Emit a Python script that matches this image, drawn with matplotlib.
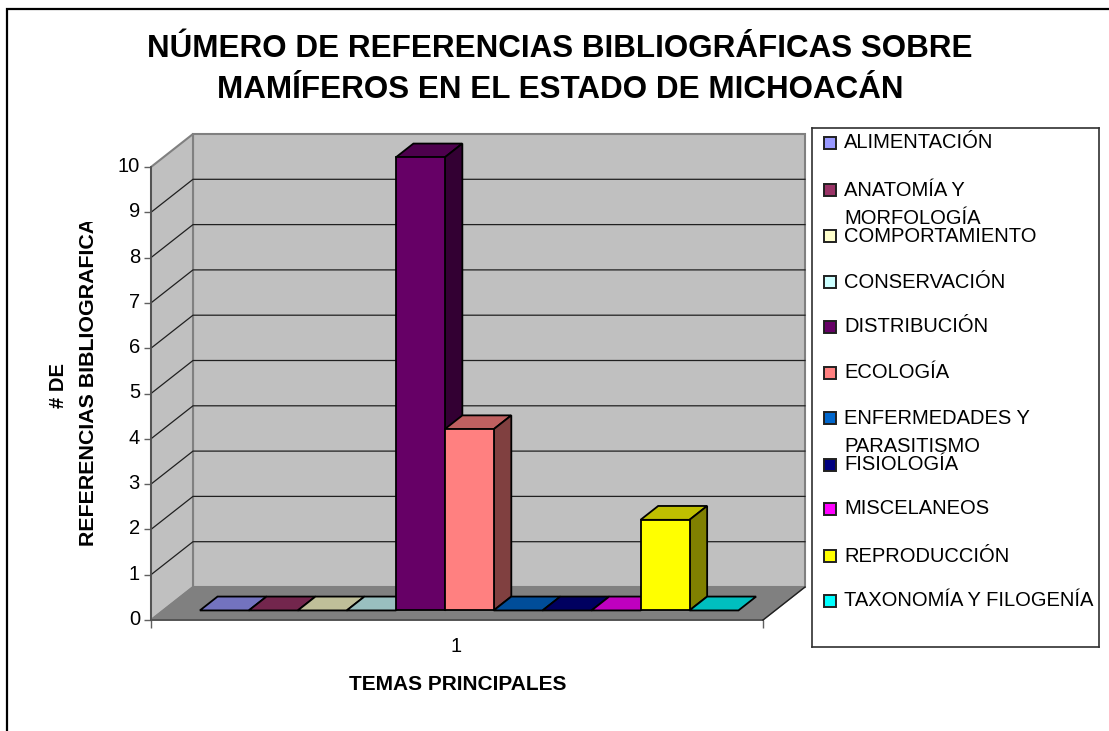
import matplotlib
matplotlib.use("Agg")
import matplotlib.pyplot as plt
from matplotlib.patches import Polygon, Rectangle
from matplotlib.transforms import ScaledTranslation, Bbox

plt.rcParams['font.family'] = ['Liberation Sans', 'DejaVu Sans']

# data
temas = ["ALIMENTACIÓN", "ANATOMÍA Y\nMORFOLOGÍA", "COMPORTAMIENTO", "CONSERVACIÓN",
         "DISTRIBUCIÓN", "ECOLOGÍA", "ENFERMEDADES Y\nPARASITISMO", "FISIOLOGÍA",
         "MISCELANEOS", "REPRODUCCIÓN", "TAXONOMÍA Y FILOGENÍA"]
referencias = [0, 0, 0, 0, 10, 4, 0, 0, 0, 2, 0]
colores = ["#9999FF", "#993366", "#FFFFCC", "#CCFFFF", "#660066", "#FF8080",
           "#0066CC", "#000080", "#FF00FF", "#FFFF00", "#00FFFF"]
yticks = list(range(0, 11))
legend_y = [143, 190, 236, 282, 327, 373, 418, 465, 509, 556, 601]

W, H = 1109, 731
fig = plt.figure(figsize=(W / 100, H / 100), dpi=100, facecolor="white")


def axpos(x0, y0, x1, y1):
    # pixel box to figure fraction
    return [x0 / W, 1 - y1 / H, (x1 - x0) / W, (y1 - y0) / H]


# outer frame
fig.add_artist(Rectangle((7 / W, -0.01), 1.1, 1 - 9 / H + 0.01, transform=fig.transFigure,
                         fill=False, ec="black", lw=1.6))

ax = fig.add_axes(axpos(151, 167, 763, 620))
ax.set_xlim(-0.75, 11.75)
ax.set_ylim(0, 10)
ax.patch.set_visible(False)
for s in ax.spines.values():
    s.set_visible(False)

# depth of the 3d box in data units
DX = 42 / 48.96
DY = 33 / 45.3
x0, x1 = ax.get_xlim()
y0, y1 = ax.get_ylim()


def P(x, y, d):
    return (x + DX * d, y + DY * d)


def face(pts, color, z=2, ec="black", lw=1.3):
    ax.add_patch(Polygon(pts, closed=True, fc=color, ec=ec, lw=lw, clip_on=False, zorder=z,
                         joinstyle="miter"))


def dark(c, f):
    r, g, b = matplotlib.colors.to_rgb(c)
    return (r * f, g * f, b * f)


# walls and floor
face([P(x0, y0, 1), P(x1, y0, 1), P(x1, y1, 1), P(x0, y1, 1)], "#C0C0C0", 1, "#808080", 1.5)
face([P(x0, y0, 0), P(x0, y0, 1), P(x0, y1, 1), P(x0, y1, 0)], "#C0C0C0", 1, "#808080", 1.5)
face([P(x0, y0, 0), P(x1, y0, 0), P(x1, y0, 1), P(x0, y0, 1)], "#808080", 1, "#808080", 1)

# gridlines
for v in yticks[1:-1]:
    a, b, c = P(x0, v, 0), P(x0, v, 1), P(x1, v, 1)
    ax.plot([a[0], b[0], c[0]], [a[1], b[1], c[1]], color="#202020", lw=0.9, clip_on=False, zorder=1.5)

# axis lines
ax.plot([x0, x0], [y0, y1], color="#505050", lw=1.3, clip_on=False, zorder=1.6)
ax.plot([x0, x1], [y0, y0], color="#505050", lw=1.3, clip_on=False, zorder=1.6)
a, b = P(x1, y0, 0), P(x1, y0, 1)
ax.plot([a[0], b[0]], [a[1], b[1]], color="#202020", lw=1, clip_on=False, zorder=1.6)

# bars, drawn back to front
d0, d1 = 0.29, 0.71
for i, (v, c) in enumerate(zip(referencias, colores)):
    l, r = i, i + 1
    face([P(l, v, d0), P(r, v, d0), P(r, v, d1), P(l, v, d1)], dark(c, 0.75), 3 + i * 0.01)
    if v > 0:
        face([P(r, 0, d0), P(r, 0, d1), P(r, v, d1), P(r, v, d0)], dark(c, 0.5), 3 + i * 0.01)
        face([P(l, 0, d0), P(r, 0, d0), P(r, v, d0), P(l, v, d0)], c, 3 + i * 0.01)

# ticks
ax.set_yticks(yticks)
ax.set_xticks([x0, x1])
ax.set_xticklabels(["", ""])
ax.tick_params(axis="both", length=5, width=1, color="#606060", pad=3, labelsize=14.5)
ax.tick_params(axis="x", length=6)
up = ScaledTranslation(0, 2.5 / 100, fig.dpi_scale_trans)
for lab in ax.get_yticklabels():
    lab.set_transform(lab.get_transform() + up)
fig.text(456 / W, 1 - 647 / H, "1", ha="center", va="center", fontsize=14.5)

# titles
fig.text(560 / W, 1 - 49 / H, "NÚMERO DE REFERENCIAS BIBLIOGRÁFICAS SOBRE", ha="center", va="center",
         fontsize=22.6, fontweight="bold")
fig.text(560 / W, 1 - 90 / H, "MAMÍFEROS EN EL ESTADO DE MICHOACÁN", ha="center", va="center",
         fontsize=22.6, fontweight="bold")
fig.text(458 / W, 1 - 685 / H, "TEMAS PRINCIPALES", ha="center", va="center", fontsize=15, fontweight="bold")
fig.text(59 / W, 1 - 385 / H, "# DE", rotation=90, ha="center", va="center", fontsize=14.5, fontweight="bold")
yl = fig.text(89 / W, 1 - 546 / H, "REFERENCIAS BIBLIOGRAFICA", rotation=90, ha="center", va="bottom",
              fontsize=15.4, fontweight="bold")
# the axis title is cut off at the top, as in the original
yl.set_clip_box(Bbox([[0, 0], [W, H - 222]]))
yl.set_clip_on(True)

# legend box
lg = fig.add_axes(axpos(812, 128, 1099, 647))
lg.set_xlim(812, 1099)
lg.set_ylim(647, 128)
lg.set_xticks([])
lg.set_yticks([])
for s in lg.spines.values():
    s.set_color("#303030")
    s.set_linewidth(1.2)
for nombre, c, y in zip(temas, colores, legend_y):
    lg.add_patch(Rectangle((824, y - 6), 12, 12, fc=c, ec="#202020", lw=1.4))
    lg.text(844, y - 9.5, nombre, ha="left", va="top", fontsize=14.5, linespacing=1.6)

fig.savefig("out.png", dpi=100)
